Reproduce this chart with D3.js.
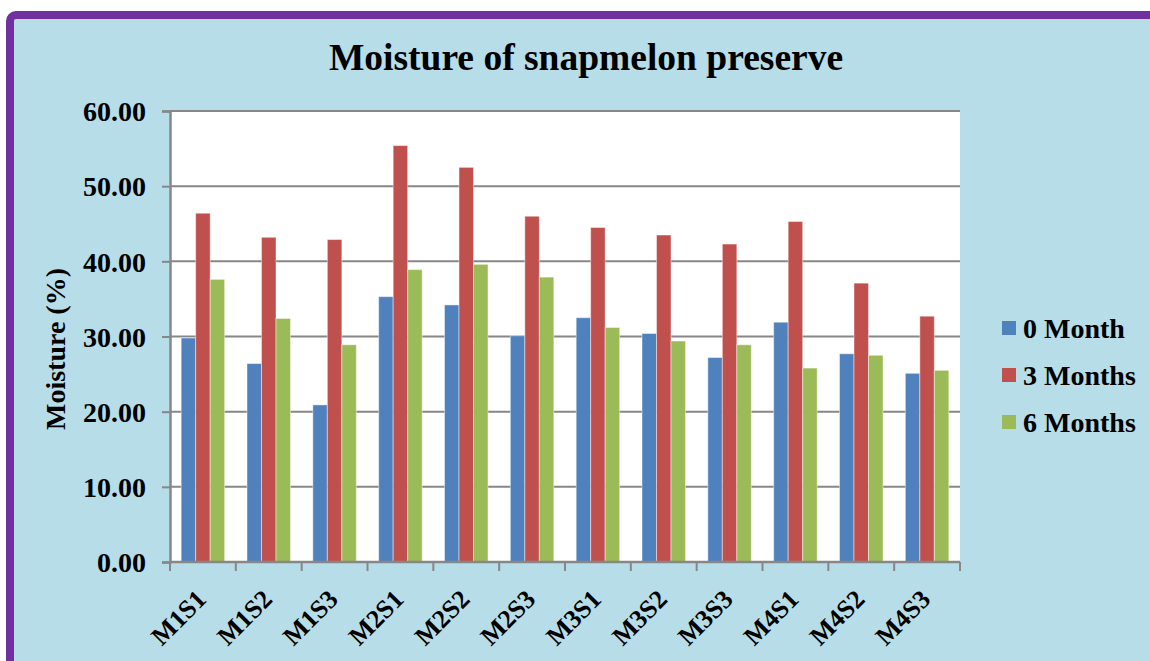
<!DOCTYPE html>
<html>
<head>
<meta charset="utf-8">
<script src="https://cdn.jsdelivr.net/npm/d3@7"></script>
<style>
  html, body { margin: 0; padding: 0; background: #ffffff; }
  svg { display: block; }
  text { font-family: "Liberation Serif", "Times New Roman", serif; font-weight: bold; fill: #000; }
</style>
</head>
<body>
<svg id="chart" width="1150" height="661"></svg>
<script>
const categories = ["M1S1","M1S2","M1S3","M2S1","M2S2","M2S3","M3S1","M3S2","M3S3","M4S1","M4S2","M4S3"];
const seriesNames = ["0 Month","3 Months","6 Months"];
const month0 = [29.8, 26.4, 20.9, 35.3, 34.2, 30.1, 32.5, 30.4, 27.2, 31.9, 27.7, 25.1];
const month3 = [46.4, 43.2, 42.9, 55.4, 52.5, 46.0, 44.5, 43.5, 42.3, 45.3, 37.1, 32.7];
const month6 = [37.6, 32.4, 28.9, 38.9, 39.6, 37.9, 31.2, 29.4, 28.9, 25.8, 27.5, 25.5];
const yTicks = [0, 10, 20, 30, 40, 50, 60];
const colors = ["#4f81bd", "#c0504d", "#9bbb59"];
const title = "Moisture of snapmelon preserve";
const yTitle = "Moisture (%)";

const seriesValues = [month0, month3, month6];
const svg = d3.select("#chart");

// background with purple border
svg.append("rect")
  .attr("x", 10).attr("y", 15)
  .attr("width", 1200).attr("height", 700)
  .attr("rx", 6)
  .attr("fill", "#b7dde8")
  .attr("stroke", "#7030a0")
  .attr("stroke-width", 8);

const plot = { left: 170, right: 960, top: 111, bottom: 562 };

const x = d3.scaleBand().domain(categories).range([plot.left, plot.right]).padding(0);
const xs = d3.scaleBand().domain(d3.range(seriesNames.length)).range([0, x.bandwidth()]).paddingInner(0).paddingOuter(0.77);
const y = d3.scaleLinear().domain([0, 60]).range([plot.bottom, plot.top]);

// plot area
svg.append("rect")
  .attr("x", plot.left).attr("y", plot.top)
  .attr("width", plot.right - plot.left).attr("height", plot.bottom - plot.top)
  .attr("fill", "#ffffff");

// gridlines
svg.append("g").selectAll("line").data(yTicks.filter(d => d > 0)).join("line")
  .attr("x1", plot.left).attr("x2", plot.right)
  .attr("y1", d => y(d)).attr("y2", d => y(d))
  .attr("stroke", "#878787").attr("stroke-width", 2);

// bars
const groups = svg.append("g").selectAll("g").data(seriesValues).join("g")
  .attr("fill", (d, i) => colors[i]);
groups.selectAll("rect").data((vals, si) => vals.map((v, ci) => ({ v, ci, si }))).join("rect")
  .attr("x", d => x(categories[d.ci]) + xs(d.si))
  .attr("width", xs.bandwidth())
  .attr("y", d => y(d.v))
  .attr("height", d => y(0) - y(d.v))
  .attr("stroke", "rgba(255,255,255,0.45)")
  .attr("stroke-width", 1);

// y axis
const yAxis = d3.axisLeft(y).tickValues(yTicks).tickFormat(d3.format(".2f")).tickSize(8).tickPadding(16);
const gy = svg.append("g").attr("transform", `translate(${plot.left},0)`).call(yAxis);
gy.select(".domain").attr("stroke", "#878787").attr("stroke-width", 2.5);
gy.selectAll(".tick line").attr("stroke", "#878787").attr("stroke-width", 2);
gy.selectAll(".tick text").style("font-size", "28px").attr("dy", "0.35em");

// x axis
const gx = svg.append("g").attr("transform", `translate(0,${plot.bottom})`);
gx.append("line").attr("x1", plot.left).attr("x2", plot.right).attr("y1", 0).attr("y2", 0)
  .attr("stroke", "#878787").attr("stroke-width", 2.5);
const boundaries = categories.map(c => x(c)).concat([plot.right]);
gx.selectAll("line.tk").data(boundaries).join("line").attr("class", "tk")
  .attr("x1", d => d).attr("x2", d => d).attr("y1", 0).attr("y2", 9)
  .attr("stroke", "#878787").attr("stroke-width", 2);
gx.selectAll("text").data(categories).join("text")
  .attr("transform", d => `translate(${x(d) + x.bandwidth() / 2 - 8},26) rotate(-45)`)
  .attr("text-anchor", "end")
  .attr("dy", "0.7em")
  .style("font-size", "26px")
  .text(d => d);

// title
svg.append("text")
  .attr("x", 586).attr("y", 70)
  .attr("text-anchor", "middle")
  .style("font-size", "37.5px")
  .text(title);

// y title
svg.append("text")
  .attr("transform", "translate(65,349) rotate(-90)")
  .attr("text-anchor", "middle")
  .style("font-size", "28px")
  .text(yTitle);

// legend
const legend = svg.append("g").selectAll("g").data(seriesNames).join("g")
  .attr("transform", (d, i) => `translate(1002,${328 + i * 47})`);
legend.append("rect").attr("x", 0).attr("y", -7).attr("width", 14).attr("height", 14)
  .attr("fill", (d, i) => colors[i]);
legend.append("text").attr("x", 21).attr("y", 0).attr("dy", "0.35em")
  .style("font-size", "28px")
  .text(d => d);
</script>
</body>
</html>
